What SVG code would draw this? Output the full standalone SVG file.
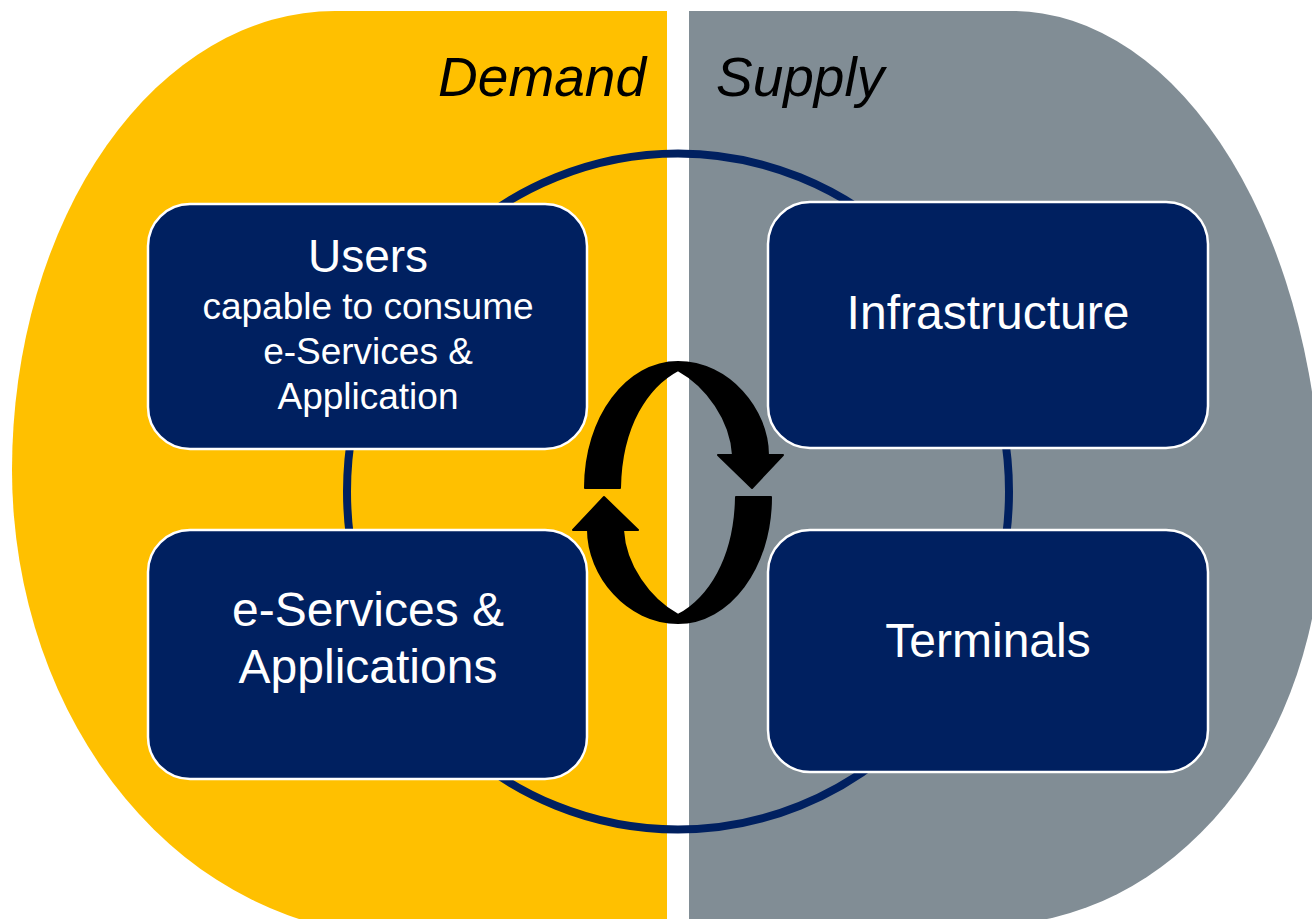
<svg xmlns="http://www.w3.org/2000/svg" width="1312" height="919" viewBox="0 0 1312 919">
  <style>
    .box { fill: #002060; stroke: #ffffff; stroke-width: 2.5; }
    .t { font-family: "Liberation Sans", Arial, sans-serif; fill: #ffffff; text-anchor: middle; }
    .hdr { font-family: "Liberation Sans", Arial, sans-serif; font-style: italic; font-size: 55px; fill: #000000; }
    .arrow { fill: #000000; stroke: #000000; stroke-width: 2; stroke-linejoin: round; }
  </style>
  <defs>
    <path id="arr" d="M 585,488 C 585,417 627,362 678,362 C 729,362 768,410 768,455 L 783,455 L 752,488 L 718,455 L 733,455 C 731,420 707,386 678,370 C 648,386 621,425 620,488 Z"/>
  </defs>
  <rect width="1312" height="919" fill="#ffffff"/>
  <g id="demand-area">
    <path d="M 667,11 L 335,11 A 323 459 0 0 0 12,470 A 388 465 0 0 0 400,935 L 667,935 Z" fill="#FFC000"/>
    <text class="hdr" x="646" y="96" text-anchor="end">Demand</text>
  </g>
  <g id="supply-area">
    <path d="M 689,11 L 1012,11 A 310 509 0 0 1 1322,520 A 332 405 0 0 1 990,925 L 689,925 Z" fill="#818D95"/>
    <text class="hdr" x="716" y="96">Supply</text>
  </g>
  <g id="connectors">
    <ellipse cx="678" cy="491.5" rx="331" ry="338" fill="none" stroke="#002060" stroke-width="8"/>
  </g>
  <g id="users">
    <rect class="box" x="148" y="204" width="439" height="245" rx="42"/>
    <text class="t" x="368" y="272" font-size="46">Users</text>
    <text class="t" x="368" y="319" font-size="37">capable to consume</text>
    <text class="t" x="368" y="364" font-size="37">e-Services &amp;</text>
    <text class="t" x="368" y="409" font-size="37">Application</text>
  </g>
  <g id="eservices">
    <rect class="box" x="148" y="530" width="439" height="249" rx="42"/>
    <text class="t" x="368" y="626" font-size="48">e-Services &amp;</text>
    <text class="t" x="368" y="683" font-size="48">Applications</text>
  </g>
  <g id="infrastructure">
    <rect class="box" x="768" y="202" width="440" height="246" rx="42"/>
    <text class="t" x="988" y="329" font-size="48">Infrastructure</text>
  </g>
  <g id="terminals">
    <rect class="box" x="768" y="530" width="440" height="242" rx="42"/>
    <text class="t" x="988" y="657" font-size="48">Terminals</text>
  </g>
  <g id="cycle-arrows">
    <use href="#arr" class="arrow"/>
    <use href="#arr" class="arrow" transform="rotate(180 678 492.5)"/>
  </g>
</svg>
